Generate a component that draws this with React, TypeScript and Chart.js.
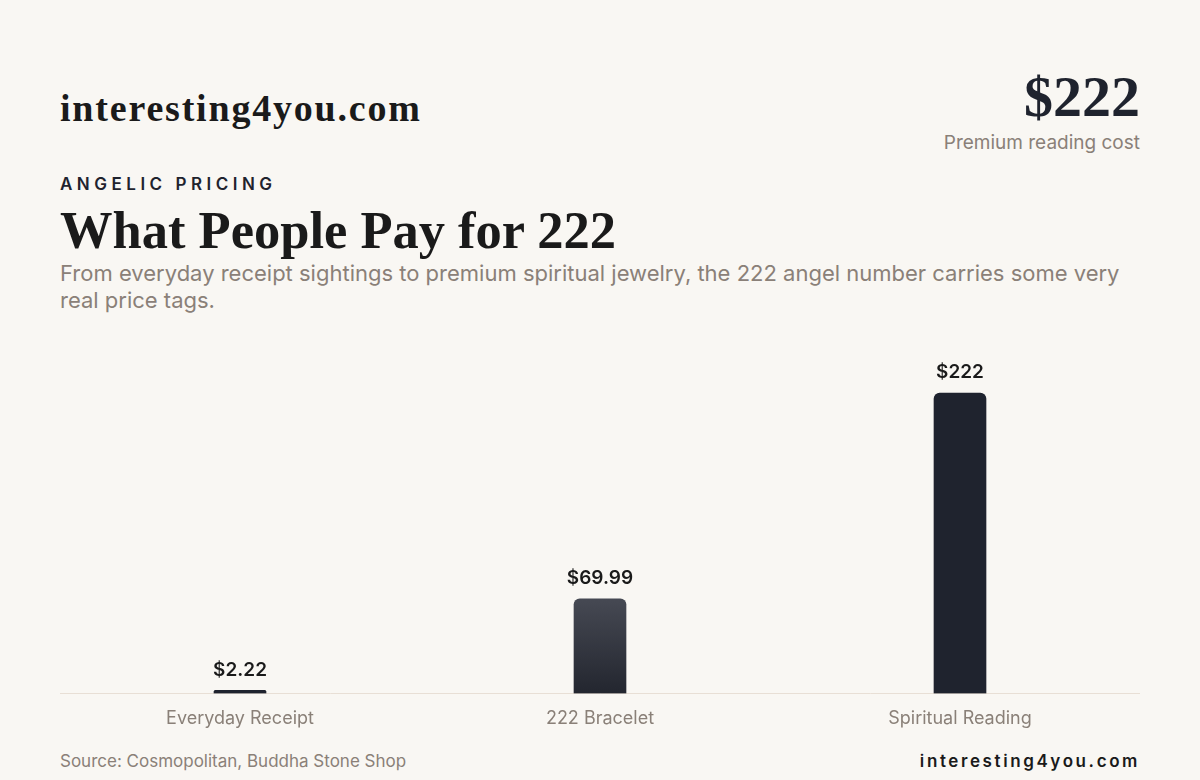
import React, { useEffect, useRef } from "react";
import { Chart, registerables } from "chart.js";

Chart.register(...registerables);

const categories = ["Everyday Receipt", "222 Bracelet", "Spiritual Reading"];
const prices = [2.22, 69.99, 222];
const priceLabels = ["$2.22", "$69.99", "$222"];

const SERIF = "'Liberation Serif', 'DejaVu Serif', serif";
const SANS = "Inter, 'Noto Sans', sans-serif";
const MUTED = "#8a8078";
const DARK = "#1f232e";

const valueLabelPlugin = {
  id: "valueLabels",
  afterDatasetsDraw(chart: any) {
    const ctx = chart.ctx;
    const meta = chart.getDatasetMeta(0);
    ctx.save();
    ctx.font = `600 19px ${SANS}`;
    ctx.fillStyle = "#1a1a1a";
    ctx.textAlign = "center";
    ctx.textBaseline = "bottom";
    meta.data.forEach((el: any, i: number) => {
      ctx.fillText(priceLabels[i], el.x, el.y - 11);
    });
    ctx.restore();
  },
};

export default function App() {
  const canvasRef = useRef<HTMLCanvasElement | null>(null);

  useEffect(() => {
    document.body.style.margin = "0";
    const canvas = canvasRef.current;
    if (!canvas) return;
    const chart = new Chart(canvas, {
      type: "bar",
      data: {
        labels: categories,
        datasets: [
          {
            data: prices,
            barThickness: 52,
            borderRadius: { topLeft: 6, topRight: 6, bottomLeft: 0, bottomRight: 0 },
            borderSkipped: "bottom",
            backgroundColor: (c: any) => {
              const ch = c.chart;
              const area = ch.chartArea;
              if (!area) return DARK;
              if (c.dataIndex === 1) {
                const top = ch.scales.y.getPixelForValue(prices[1]);
                const g = ch.ctx.createLinearGradient(0, top, 0, area.bottom);
                g.addColorStop(0, "#464953");
                g.addColorStop(1, "#23262f");
                return g;
              }
              return DARK;
            },
          },
        ],
      },
      options: {
        animation: false,
        responsive: false,
        maintainAspectRatio: false,
        layout: { padding: 0 },
        plugins: {
          legend: { display: false },
          tooltip: { enabled: false },
        },
        scales: {
          y: {
            display: false,
            min: 0,
            max: 265,
          },
          x: {
            grid: { display: false },
            border: { display: true, color: "#e8dfd5", width: 1 },
            ticks: {
              color: MUTED,
              font: { family: SANS, size: 18 },
              padding: 6,
            },
          },
        },
      },
      plugins: [valueLabelPlugin],
    });
    return () => chart.destroy();
  }, []);

  return (
    <div
      style={{
        position: "absolute",
        left: 0,
        top: 0,
        width: 1200,
        height: 780,
        background: "#f9f7f3",
        overflow: "hidden",
      }}
    >
      <div
        style={{
          position: "absolute",
          left: 60,
          top: 84,
          fontFamily: SERIF,
          fontWeight: 700,
          fontSize: 38,
          letterSpacing: 1.8,
          color: "#1a1a1a",
          lineHeight: "48px",
        }}
      >
        interesting4you.com
      </div>
      <div
        style={{
          position: "absolute",
          right: 60,
          top: 63,
          textAlign: "right",
        }}
      >
        <div
          style={{
            fontFamily: SERIF,
            fontWeight: 700,
            fontSize: 58,
            color: DARK,
            lineHeight: "68px",
          }}
        >
          $222
        </div>
        <div
          style={{
            fontFamily: SANS,
            fontSize: 19,
            color: MUTED,
            lineHeight: "24px",
          }}
        >
          Premium reading cost
        </div>
      </div>
      <div
        style={{
          position: "absolute",
          left: 60,
          top: 173,
          fontFamily: SANS,
          fontWeight: 600,
          fontSize: 17,
          letterSpacing: 4.5,
          color: DARK,
          lineHeight: "22px",
        }}
      >
        ANGELIC PRICING
      </div>
      <div
        style={{
          position: "absolute",
          left: 60,
          top: 198,
          fontFamily: SERIF,
          fontWeight: 700,
          fontSize: 52.5,
          color: "#1a1a1a",
          lineHeight: "64px",
        }}
      >
        What People Pay for 222
      </div>
      <div
        style={{
          position: "absolute",
          left: 60,
          top: 260,
          width: 1080,
          fontFamily: SANS,
          fontSize: 22,
          color: MUTED,
          lineHeight: "27px",
        }}
      >
        From everyday receipt sightings to premium spiritual jewelry, the 222 angel number carries some very
        real price tags.
      </div>
      <canvas
        ref={canvasRef}
        width={1080}
        height={400}
        style={{ position: "absolute", left: 60, top: 335, width: 1080, height: 400 }}
      />
      <div
        style={{
          position: "absolute",
          left: 60,
          top: 750,
          fontFamily: SANS,
          fontSize: 17,
          color: MUTED,
          lineHeight: "22px",
        }}
      >
        Source: Cosmopolitan, Buddha Stone Shop
      </div>
      <div
        style={{
          position: "absolute",
          right: 60,
          top: 750,
          fontFamily: SANS,
          fontWeight: 600,
          fontSize: 17,
          letterSpacing: 2.6,
          color: "#1a1a1a",
          lineHeight: "22px",
        }}
      >
        interesting4you.com
      </div>
    </div>
  );
}
